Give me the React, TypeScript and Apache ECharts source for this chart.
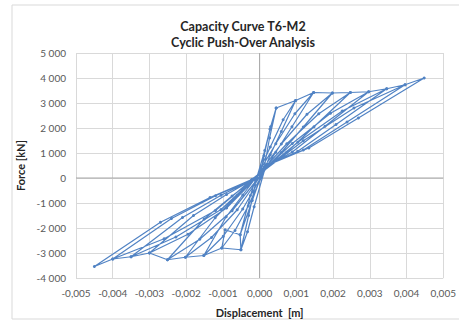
import React, { useEffect, useRef } from "react";
import * as echarts from "echarts";

// Cyclic push-over: [displacement (m), force (kN)] per cycle
const cycle1 = [
  [0, 0], [0.00012, 900], [0.00028, 1950], [0.00045, 2800], [0.00027, 1600], [0.00013, 450],
  [-0.0002, -900], [-0.00053, -2270], [-0.00051, -2870], [-0.0003, -1500], [-0.00008, 0],
];
const cycle2 = [
  [0.00014, 1100], [0.0003, 2050], [0.00045, 2800], [0.00098, 3100], [0.00059, 1860], [0.00029, 930], [0.00015, 400],
  [-0.00015, -1150], [-0.00033, -2150], [-0.00051, -2870], [-0.00103, -2800], [-0.00094, -2070], [-0.00053, -2270],
  [-0.00025, -700], [-0.0001, 0],
];
const cycle3 = [
  [0.00029, 1240], [0.00064, 2330], [0.00098, 3100], [0.00147, 3420], [0.00088, 2050], [0.00044, 1030], [0.00018, 450],
  [-0.00031, -1120], [-0.00067, -2100], [-0.00103, -2800], [-0.00152, -3100], [-0.00091, -1550], [-0.00046, -680], [-0.00012, -20],
];
const cycle4 = [
  [0.00044, 1370], [0.00096, 2570], [0.00147, 3420], [0.00198, 3400], [0.00119, 2040], [0.00059, 1020], [0.0002, 450],
  [-0.00046, -1240], [-0.00099, -2330], [-0.00152, -3100], [-0.00202, -3170], [-0.00121, -1590], [-0.00061, -700], [-0.00014, -40],
];
const cycle5 = [
  [0.00059, 1360], [0.00129, 2550], [0.00198, 3400], [0.00247, 3420], [0.00148, 2050], [0.00074, 1030], [0.00022, 500],
  [-0.00061, -1270], [-0.00131, -2380], [-0.00202, -3170], [-0.00251, -3270], [-0.00151, -1640], [-0.00075, -720], [-0.00016, -50],
];
const cycle6 = [
  [0.00074, 1370], [0.00161, 2570], [0.00247, 3420], [0.00297, 3450], [0.00178, 2070], [0.00089, 1040], [0.00024, 500],
  [-0.00075, -1310], [-0.00163, -2450], [-0.00251, -3270], [-0.003, -3000], [-0.0018, -1500], [-0.0009, -660], [-0.00018, -60],
];
const cycle7 = [
  [0.00089, 1380], [0.00193, 2590], [0.00297, 3450], [0.00346, 3570], [0.00208, 2140], [0.00104, 1070], [0.00025, 520],
  [-0.0009, -1200], [-0.00195, -2250], [-0.003, -3000], [-0.0035, -3150], [-0.0021, -1580], [-0.00105, -690], [-0.0002, -70],
];
const cycle8 = [
  [0.00104, 1430], [0.00225, 2680], [0.00346, 3570], [0.00396, 3730], [0.00238, 2240], [0.00119, 1120], [0.00027, 550],
  [-0.00105, -1260], [-0.00228, -2360], [-0.0035, -3150], [-0.004, -3240], [-0.0024, -1620], [-0.0012, -710], [-0.00022, -80],
];
const cycle9 = [
  [0.00119, 1490], [0.00257, 2800], [0.00396, 3730], [0.00448, 4000], [0.00269, 2400], [0.00134, 1200], [0.00028, 550],
  [-0.0012, -1300], [-0.0026, -2430], [-0.004, -3240], [-0.0045, -3540], [-0.0027, -1770], [-0.00135, -780], [-0.0002, -50],
];

const xRange = [-0.005, 0.005];
const yRange = [-4000, 5000];
const zeroVertical = [[0, -4000], [0, 5000]];
const zeroHorizontal = [[-0.005, 0], [0.005, 0]];

const titleLines = ["Capacity Curve T6-M2", "Cyclic Push-Over Analysis"];
const xName = "Displacement  [m]";
const yName = "Force [kN]";

const fmtX = (v: number) => {
  if (Math.abs(v) < 1e-9) return "0,000";
  return v.toFixed(3).replace(".", ",");
};
const fmtY = (v: number) => {
  if (Math.abs(v) < 1e-6) return "0";
  const s = Math.abs(Math.round(v)).toString().replace(/\B(?=(\d{3})+(?!\d))/g, " ");
  return (v < 0 ? "-" : "") + s;
};

export default function App() {
  const ref = useRef<HTMLDivElement>(null);
  useEffect(() => {
    if (!ref.current) return;
    const chart = echarts.init(ref.current, undefined, { renderer: "svg" });
    const data = [
      ...cycle1, ...cycle2, ...cycle3, ...cycle4, ...cycle5,
      ...cycle6, ...cycle7, ...cycle8, ...cycle9,
    ];
    const font = "Lato, 'Open Sans', sans-serif";
    chart.setOption({
      animation: false,
      backgroundColor: "#ffffff",
      title: {
        text: titleLines.join("\n"),
        left: 238,
        top: 13,
        textAlign: "center",
        textStyle: { fontFamily: font, fontWeight: "bold", fontSize: 12.5, color: "#262626", lineHeight: 16 },
      },
      graphic: [
        {
          type: "rect",
          shape: { x: 12, y: 5, width: 460, height: 314 },
          style: { fill: "none", stroke: "#d9d9d9", lineWidth: 1 },
          silent: true,
        },
      ],
      grid: { left: 76, right: 12, top: 53, bottom: 49 },
      xAxis: {
        type: "value",
        min: xRange[0],
        max: xRange[1],
        interval: 0.001,
        name: xName,
        nameLocation: "middle",
        nameGap: 29,
        nameTextStyle: { fontFamily: font, fontWeight: "bold", fontSize: 11, color: "#262626" },
        axisLine: { show: false },
        axisTick: { show: false },
        axisLabel: { formatter: fmtX, color: "#595959", fontSize: 10, fontFamily: font, margin: 10 },
        splitLine: { show: true, lineStyle: { color: "#d9d9d9", width: 1 } },
      },
      yAxis: {
        type: "value",
        min: yRange[0],
        max: yRange[1],
        interval: 1000,
        name: yName,
        nameLocation: "middle",
        nameGap: 36,
        nameTextStyle: { fontFamily: font, fontWeight: "bold", fontSize: 11, color: "#262626" },
        axisLine: { show: false },
        axisTick: { show: false },
        axisLabel: { formatter: fmtY, color: "#595959", fontSize: 10, fontFamily: font, margin: 10 },
        splitLine: { show: true, lineStyle: { color: "#d9d9d9", width: 1 } },
      },
      series: [
        {
          type: "line",
          data: zeroVertical,
          showSymbol: false,
          silent: true,
          lineStyle: { color: "#a6a6a6", width: 1 },
          z: 1,
        },
        {
          type: "line",
          data: zeroHorizontal,
          showSymbol: false,
          silent: true,
          lineStyle: { color: "#a6a6a6", width: 1 },
          z: 1,
        },
        {
          type: "line",
          data,
          showSymbol: true,
          symbol: "circle",
          symbolSize: 3,
          lineStyle: { color: "#5183c4", width: 1.2 },
          itemStyle: { color: "#5183c4" },
          z: 3,
        },
      ],
    });
    return () => chart.dispose();
  }, []);
  return (
    <div
      ref={ref}
      style={{ position: "fixed", left: 0, top: 0, width: 459, height: 327 }}
    />
  );
}
